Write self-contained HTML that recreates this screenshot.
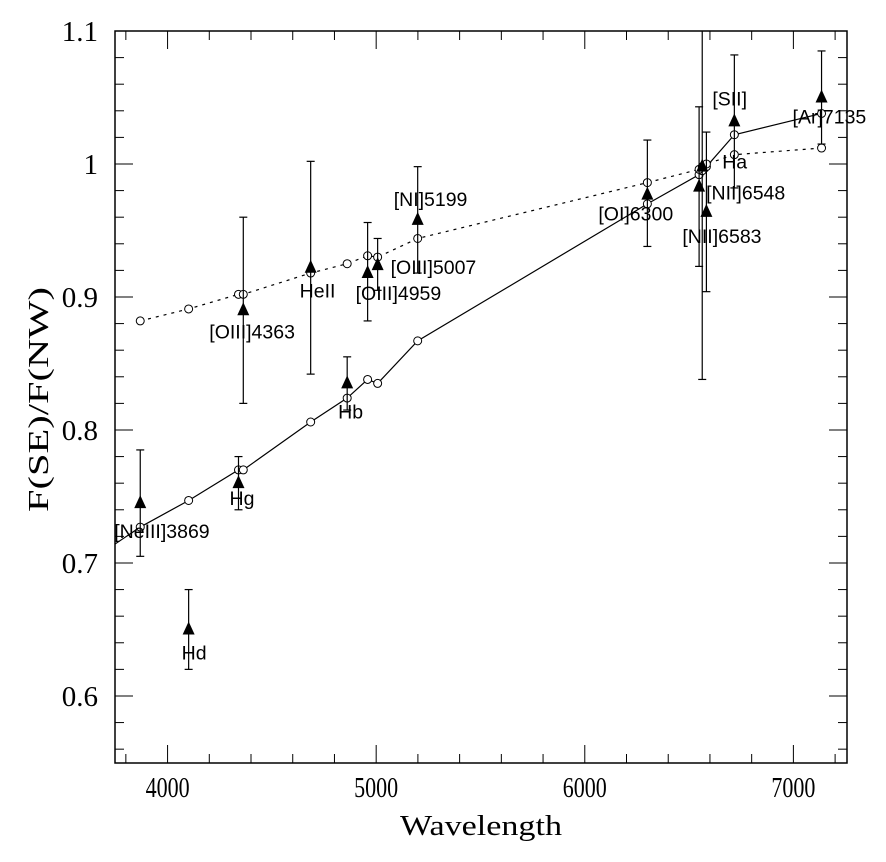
<!DOCTYPE html>
<html><head><meta charset="utf-8"><style>
body{margin:0;background:#fff;}
svg text{font-family:"Liberation Sans",sans-serif;}
.ax{font-family:"Liberation Serif",serif;font-size:29px;}
</style></head><body>
<svg id="chart" width="886" height="857">
<g id="axes"></g>
<g id="marks"></g>
</svg>
<script>
const lineWaves=[3727,3869,4101,4340,4363,4686,4861,4959,5007,5199,6300,6548,6563,6583,6717,7135];
const solidVals=[0.712,0.727,0.747,0.770,0.770,0.806,0.824,0.838,0.835,0.867,0.970,0.992,0.995,0.998,1.022,1.038];
const dottedWaves=[3869,4101,4340,4363,4686,4861,4959,5007,5199,6300,6548,6563,6583,6717,7135];
const dottedVals=[0.882,0.891,0.902,0.902,0.918,0.925,0.931,0.930,0.944,0.986,0.996,0.998,1.000,1.007,1.012];
const obsNames=["[NeIII]3869","Hd","Hg","[OIII]4363","HeII","Hb","[OIII]4959","[OIII]5007","[NI]5199","[OI]6300","[NII]6548","Ha","[NII]6583","[SII]","[Ar]7135"];
const obsWaves=[3869,4101,4340,4363,4686,4861,4959,5007,5199,6300,6548,6563,6583,6717,7135];
const obsVals=[0.745,0.650,0.760,0.890,0.922,0.835,0.918,0.924,0.958,0.977,0.983,0.998,0.964,1.032,1.050];
const errLo=[0.705,0.620,0.740,0.820,0.842,0.815,0.882,0.905,0.918,0.938,0.923,0.838,0.904,0.982,1.015];
const errHi=[0.785,0.680,0.780,0.960,1.002,0.855,0.956,0.944,0.998,1.018,1.043,1.105,1.024,1.082,1.085];
const xTicks=[4000,5000,6000,7000];
const yTicks=[0.6,0.7,0.8,0.9,1,1.1];
const yLabels=["0.6","0.7","0.8","0.9","1","1.1"];
const labelDx=[-26,-7,-9,-34,-11,-9,-12,13,-24,-49,7,20,-24,-22,-29];
const labelDy=[35,30,22,28,30,35,27,9,-14,26,13,2,31,-16,26];

const L=115,R=847,T=31,B=763,X0=3748,X1=7257,Y0=0.5496,Y1=1.1;
const sx=v=>L+(v-X0)/(X1-X0)*(R-L);
const sy=v=>B-(v-Y0)/(Y1-Y0)*(B-T);
const NS="http://www.w3.org/2000/svg";
function mk(tag,attrs,parent){const e=document.createElementNS(NS,tag);for(const k in attrs)e.setAttribute(k,attrs[k]);parent.appendChild(e);return e;}
const ax=document.getElementById('axes'),mg=document.getElementById('marks');
let f=mk('rect',{x:L,y:T,width:R-L,height:B-T,fill:'none',stroke:'#000','stroke-width':1.5},ax);


for(let w=3800;w<=7200;w+=200){const big=w%1000===0,len=big?18:9;
 mk('line',{x1:sx(w),x2:sx(w),y1:B,y2:B-len,stroke:'#000'},ax);
 mk('line',{x1:sx(w),x2:sx(w),y1:T,y2:T+len,stroke:'#000'},ax);}
for(let i=0;i<28;i++){const v=0.56+i*0.02;const big=Math.abs(v*10-Math.round(v*10))<1e-6,len=big?18:9;
 mk('line',{x1:L,x2:L+len,y1:sy(v),y2:sy(v),stroke:'#000'},ax);
 mk('line',{x1:R,x2:R-len,y1:sy(v),y2:sy(v),stroke:'#000'},ax);}
xTicks.forEach(t=>{const e=mk('text',{x:sx(t)-22,y:B+34,class:'ax',textLength:44,lengthAdjust:'spacingAndGlyphs'},ax);e.textContent=t;
 
 });
yTicks.forEach((t,i)=>{const e=mk('text',{x:L-17,y:sy(t)+10,'text-anchor':'end',class:'ax'},ax);e.textContent=yLabels[i];
 
 });
let xt=mk('text',{x:400,y:835,class:'ax',textLength:162,lengthAdjust:'spacingAndGlyphs'},ax);xt.textContent='Wavelength';


let yt=mk('text',{x:-112,y:0,class:'ax',textLength:225,lengthAdjust:'spacingAndGlyphs',transform:'translate(48,400) rotate(-90)'},ax);yt.textContent='F(SE)/F(NW)';


mk('clipPath',{id:'cp'},mg);mk('rect',{x:L,y:T,width:R-L,height:B-T},mg.lastChild);
const cg=mk('g',{'clip-path':'url(#cp)'},mg);
let sl=mk('polyline',{points:lineWaves.map((w,i)=>sx(w)+','+sy(solidVals[i])).join(' '),fill:'none',stroke:'#000','stroke-width':1.2},cg);


let dl=mk('polyline',{points:dottedWaves.map((w,i)=>sx(w)+','+sy(dottedVals[i])).join(' '),fill:'none',stroke:'#000','stroke-width':1.2,'stroke-dasharray':'3,5'},cg);


lineWaves.forEach((w,i)=>{const c=mk('circle',{cx:sx(w),cy:sy(solidVals[i]),r:4,fill:'#fff',stroke:'#000'},cg);
 
 });
dottedWaves.forEach((w,i)=>{const c=mk('circle',{cx:sx(w),cy:sy(dottedVals[i]),r:4,fill:'#fff',stroke:'#000'},cg);
 
 });
obsWaves.forEach((w,i)=>{const x=sx(w),y=sy(obsVals[i]),y1=Math.max(sy(errHi[i]),T),y2=sy(errLo[i]);
 const g=mk('g',{},mg);
 
 
 mk('line',{x1:x,x2:x,y1:y1,y2:y2,stroke:'#000','stroke-width':1.2},g);
 if(sy(errHi[i])>T)mk('line',{x1:x-4,x2:x+4,y1:y1,y2:y1,stroke:'#000','stroke-width':1.2},g);
 mk('line',{x1:x-4,x2:x+4,y1:y2,y2:y2,stroke:'#000','stroke-width':1.2},g);
 mk('polygon',{points:`${x},${y-8} ${x-6},${y+5} ${x+6},${y+5}`,fill:'#000'},g);
 const t=mk('text',{x:x+labelDx[i],y:y+labelDy[i],'font-size':'19.5'},g);t.textContent=obsNames[i];
 
 
});
</script>
</body></html>
